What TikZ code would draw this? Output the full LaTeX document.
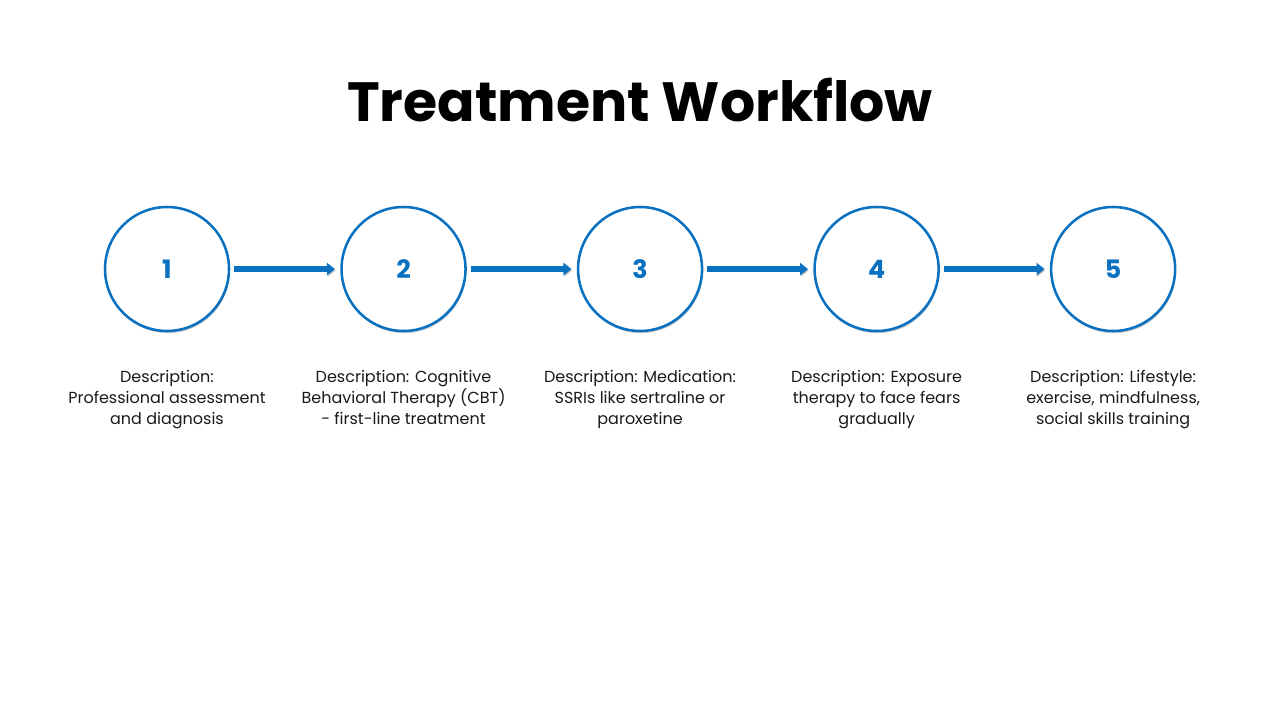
\documentclass[tikz,border=0pt]{standalone}
\usepackage{fontspec}
\setmainfont{Poppins}
\usetikzlibrary{arrows.meta,positioning,shadows}
\definecolor{wfblue}{RGB}{10,112,192}
\definecolor{wftext}{RGB}{25,25,25}

\begin{document}
\begin{tikzpicture}[x=0.75pt,y=-0.75pt,>={Triangle[length=6pt,width=9pt]},node distance=82.5pt,
    stepcircle/.style={circle,draw=wfblue,line width=1.9pt,fill=white,minimum size=93pt,inner sep=0pt,
      font=\fontsize{19}{19}\selectfont\bfseries,text=wfblue,
      drop shadow={shadow xshift=0.6pt,shadow yshift=-1.6pt,opacity=0.22,fill=black}},
    stepdesc/.style={align=center,font=\fontsize{12}{15.75}\selectfont,text=wftext,inner sep=0pt},
    flow/.style={->,wfblue,line width=4.5pt,shorten <=3pt,shorten >=4pt,
      preaction={draw=black,opacity=0.2,transform canvas={xshift=0.5pt,yshift=-1.2pt}}}]
  \useasboundingbox (0,0) rectangle (1280,720);
  \node[font=\fontsize{41.5}{41.5}\selectfont\bfseries] (title) at (640,100) {Treatment Workflow};
  \node[stepcircle] (c1) at (167,269) {1};
  \node[stepcircle,right=of c1] (c2) {2};
  \node[stepcircle,right=of c2] (c3) {3};
  \node[stepcircle,right=of c3] (c4) {4};
  \node[stepcircle,right=of c4] (c5) {5};
  \node[stepdesc,below=28.5pt of c1] (d1) {Description:\\Professional assessment\\and diagnosis};
  \node[stepdesc,below=28.5pt of c2] (d2) {Description: Cognitive\\Behavioral Therapy (CBT)\\- first-line treatment};
  \node[stepdesc,below=28.5pt of c3] (d3) {Description: Medication:\\SSRIs like sertraline or\\paroxetine};
  \node[stepdesc,below=28.5pt of c4] (d4) {Description: Exposure\\therapy to face fears\\gradually};
  \node[stepdesc,below=28.5pt of c5] (d5) {Description: Lifestyle:\\exercise, mindfulness,\\social skills training};
  \foreach \a/\b in {c1/c2,c2/c3,c3/c4,c4/c5}
    \draw[flow] (\a) -- (\b);
\end{tikzpicture}
\end{document}
